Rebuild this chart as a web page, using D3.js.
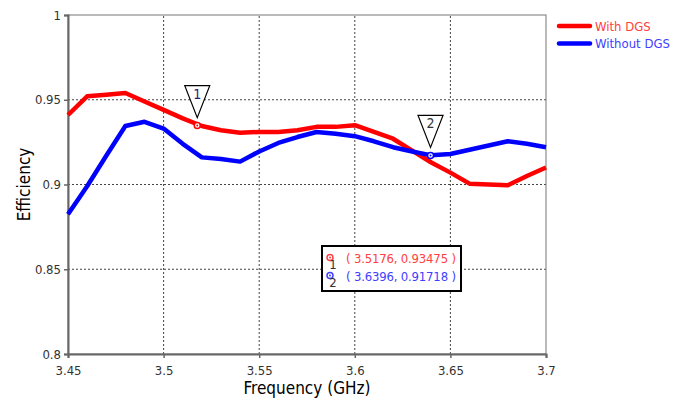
<!DOCTYPE html>
<html>
<head>
<meta charset="utf-8">
<script src="https://cdn.jsdelivr.net/npm/d3@7"></script>
<style>
  body { margin: 0; background: #fff; }
  text { font-family: "DejaVu Sans Condensed", "Liberation Sans", sans-serif; }
</style>
</head>
<body>
<svg id="chart"></svg>
<script>
var freq = [3.45, 3.46, 3.47, 3.48, 3.49, 3.50, 3.51, 3.52, 3.53, 3.54, 3.55, 3.56, 3.57,
            3.58, 3.59, 3.60, 3.61, 3.62, 3.63, 3.64, 3.65, 3.66, 3.67, 3.68, 3.69, 3.70];
var withDGS = [0.941, 0.952, 0.953, 0.954, 0.949, 0.944, 0.939, 0.9345, 0.932, 0.9305, 0.931, 0.931, 0.932,
               0.934, 0.934, 0.935, 0.931, 0.927, 0.920, 0.913, 0.907, 0.9005, 0.900, 0.8995, 0.905, 0.910];
var withoutDGS = [0.8825, 0.899, 0.917, 0.9345, 0.937, 0.933, 0.924, 0.916, 0.915, 0.9135, 0.9195, 0.9245, 0.928,
                  0.931, 0.930, 0.9285, 0.9255, 0.922, 0.9195, 0.9172, 0.918, 0.9205, 0.923, 0.9255, 0.924, 0.922];
var xTicks = [3.45, 3.5, 3.55, 3.6, 3.65, 3.7];
var yTicks = [0.8, 0.85, 0.9, 0.95, 1];
var markers = [
  { id: "1", x: 3.5176, y: 0.93475, color: "#ff0000", text: "#ff4040", label: "#1a237e" },
  { id: "2", x: 3.6396, y: 0.91718, color: "#0000ff", text: "#4040ff", label: "#333333" }
];
var seriesNames = ["With DGS", "Without DGS"];
var seriesColors = ["#ff0000", "#0000ff"];
var legendText = ["#ff4040", "#4040ff"];

var w = 681, h = 401;
var margin = { left: 68, right: 135, top: 15, bottom: 47 };

var svg = d3.select("#chart").attr("width", w).attr("height", h);

var x = d3.scaleLinear().domain([3.45, 3.7]).range([margin.left, w - margin.right]);
var y = d3.scaleLinear().domain([0.8, 1]).range([h - margin.bottom, margin.top]);

// grid
svg.append("g").selectAll("line").data(xTicks.slice(1, -1)).enter().append("line")
  .attr("x1", function(d) { return x(d); }).attr("x2", function(d) { return x(d); })
  .attr("y1", y(0.8)).attr("y2", y(1))
  .attr("stroke", "#444").attr("stroke-width", 1).attr("stroke-dasharray", "2,2");
svg.append("g").selectAll("line").data(yTicks.slice(1, -1)).enter().append("line")
  .attr("y1", function(d) { return y(d); }).attr("y2", function(d) { return y(d); })
  .attr("x1", x(3.45)).attr("x2", x(3.7))
  .attr("stroke", "#444").attr("stroke-width", 1).attr("stroke-dasharray", "2,2");

// frame
svg.append("rect")
  .attr("x", x(3.45)).attr("y", y(1))
  .attr("width", x(3.7) - x(3.45)).attr("height", y(0.8) - y(1))
  .attr("fill", "none").attr("stroke", "#777").attr("stroke-width", 1);

// axes
var xAxis = d3.axisBottom(x).tickValues(xTicks).tickSize(4).tickFormat(d3.format("~g"));
var gx = svg.append("g").attr("transform", "translate(0," + y(0.8) + ")").call(xAxis);
var yAxis = d3.axisLeft(y).tickValues(yTicks).tickSize(4).tickFormat(d3.format("~g"));
var gy = svg.append("g").attr("transform", "translate(" + x(3.45) + ",0)").call(yAxis);
[gx, gy].forEach(function(g) {
  g.select(".domain").attr("stroke", "#666").attr("stroke-width", 2);
  g.selectAll(".tick line").attr("stroke", "#666").attr("stroke-width", 1.5);
  g.selectAll(".tick text").attr("fill", "#333").style("font-size", "13px")
    .style("font-family", "DejaVu Sans Condensed, Liberation Sans, sans-serif");
});
gx.selectAll(".tick text").attr("dy", "1.1em");

// axis titles
svg.append("text")
  .attr("x", (x(3.45) + x(3.7)) / 2).attr("y", 394)
  .attr("text-anchor", "middle").style("font-size", "17px").attr("fill", "#000")
  .text("Frequency (GHz)");
svg.append("text")
  .attr("transform", "translate(30," + ((y(0.8) + y(1)) / 2) + ") rotate(-90)")
  .attr("text-anchor", "middle").style("font-size", "17px").attr("fill", "#000")
  .text("Efficiency");

// lines
var line = d3.line()
  .x(function(d, i) { return x(freq[i]); })
  .y(function(d) { return y(d); });
[withDGS, withoutDGS].forEach(function(s, k) {
  svg.append("path").datum(s)
    .attr("d", line)
    .attr("fill", "none")
    .attr("stroke", seriesColors[k])
    .attr("stroke-width", 4.5)
    .attr("stroke-linejoin", "round");
});

// markers on curves
markers.forEach(function(m) {
  var px = x(m.x), py = y(m.y);
  svg.append("circle").attr("cx", px).attr("cy", py).attr("r", 3)
    .attr("fill", "#fff").attr("stroke", m.color).attr("stroke-width", 1.5);
  svg.append("circle").attr("cx", px).attr("cy", py).attr("r", 1)
    .attr("fill", m.color);
  var tip = py - 8;
  svg.append("path")
    .attr("d", "M" + (px - 12.5) + "," + (tip - 32) + "L" + (px + 12.5) + "," + (tip - 32) + "L" + px + "," + tip + "Z")
    .attr("fill", "#fff").attr("stroke", "#000").attr("stroke-width", 1.2);
  svg.append("text").attr("x", px).attr("y", tip - 19)
    .attr("text-anchor", "middle").style("font-size", "14px").attr("fill", m.label)
    .text(m.id);
});

// marker value box
var box = svg.append("g");
box.append("rect")
  .attr("x", 322).attr("y", 246).attr("width", 139).attr("height", 45)
  .attr("fill", "#fff").attr("stroke", "#000").attr("stroke-width", 2);
markers.forEach(function(m, i) {
  var cy = 257.5 + i * 18;
  box.append("circle").attr("cx", 330).attr("cy", cy).attr("r", 3)
    .attr("fill", "none").attr("stroke", m.text).attr("stroke-width", 1.5);
  box.append("circle").attr("cx", 330).attr("cy", cy).attr("r", 1).attr("fill", m.text);
  box.append("text").attr("x", 333).attr("y", cy + 11)
    .attr("text-anchor", "middle").style("font-size", "13px").attr("fill", "#333")
    .text(m.id);
  box.append("text").attr("x", 346).attr("y", cy + 5)
    .attr("textLength", 110).attr("lengthAdjust", "spacing")
    .style("font-size", "13px").attr("fill", m.text)
    .text("( " + m.x + ", " + m.y + " )");
});

// legend
var legend = svg.append("g").attr("transform", "translate(559,26)");
seriesNames.forEach(function(n, i) {
  legend.append("line").attr("x1", 0).attr("x2", 31).attr("y1", i * 17.5).attr("y2", i * 17.5)
    .attr("stroke", seriesColors[i]).attr("stroke-width", 4.5).attr("stroke-linecap", "round");
  legend.append("text").attr("x", 36).attr("y", i * 17.5 + 4.5)
    .style("font-size", "13px").attr("fill", legendText[i])
    .text(n);
});
</script>
</body>
</html>
